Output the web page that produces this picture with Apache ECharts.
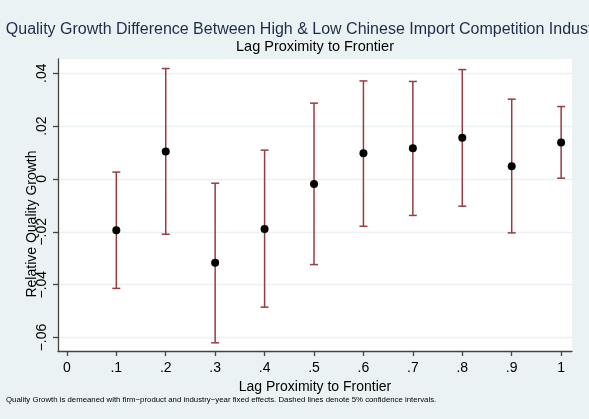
<!DOCTYPE html>
<html lang="en" style="height: 100%">
<head>
  <meta charset="utf-8">
</head>
<body style="height: 100%; margin: 0">
  <div id="container" style="height: 100%"></div>

  <script type="text/javascript" src="https://fastly.jsdelivr.net/npm/echarts@6/dist/echarts.min.js"></script>
  <script type="text/javascript">
    // values
    var proximity = [0.1, 0.2, 0.3, 0.4, 0.5, 0.6, 0.7, 0.8, 0.9, 1.0];
    var estimate = [-0.0194, 0.0104, -0.0317, -0.0189, -0.0019, 0.0097, 0.0116, 0.0156, 0.0048, 0.0138];
    var ciLow = [-0.0414, -0.0209, -0.0620, -0.0485, -0.0324, -0.0179, -0.0138, -0.0103, -0.0204, 0.0003];
    var ciHigh = [0.0026, 0.0418, -0.0016, 0.0109, 0.0287, 0.0371, 0.0369, 0.0414, 0.0302, 0.0274];
    var xTicks = [0, 0.1, 0.2, 0.3, 0.4, 0.5, 0.6, 0.7, 0.8, 0.9, 1];
    var yTicks = [-0.06, -0.04, -0.02, 0, 0.02, 0.04];

    var dom = document.getElementById('container');
    var myChart = echarts.init(dom, null, { renderer: 'canvas' });

    // stata style labels: .1, -.02
    function stataLabel(v) {
      var s = String(Math.round(v * 1000) / 1000);
      s = s.replace('0.', '.');
      return s.replace('-', '\u2212');
    }

    var barData = [];
    var pointData = [];
    for (var i = 0; i < proximity.length; i++) {
      barData.push([proximity[i], ciLow[i], ciHigh[i]]);
      pointData.push([proximity[i], estimate[i]]);
    }

    var font = '"Liberation Sans", Arial, sans-serif';

    var option = {
      backgroundColor: '#eaf2f3',
      animation: false,
      textStyle: { fontFamily: font },
      grid: {
        left: 58, right: 17, top: 59, bottom: 68,
        show: true, backgroundColor: '#ffffff', borderWidth: 0
      },
      graphic: [
        {
          type: 'text',
          style: {
            text: 'Quality Growth Difference Between High & Low Chinese Import Competition Industries',
            x: 312, y: 30, textAlign: 'center', textVerticalAlign: 'middle',
            font: '16px ' + font, fill: '#1c2c4c'
          }
        },
        {
          type: 'text',
          style: {
            text: 'Lag Proximity to Frontier',
            x: 315, y: 47, textAlign: 'center', textVerticalAlign: 'middle',
            font: '14.5px ' + font, fill: '#000'
          }
        },
        {
          type: 'text', x: 32, y: 224, rotation: Math.PI / 2,
          style: {
            text: 'Relative Quality Growth',
            textAlign: 'center', textVerticalAlign: 'middle',
            font: '14px ' + font, fill: '#000'
          }
        },
        {
          type: 'text',
          style: {
            text: 'Quality Growth is demeaned with firm\u2212product and industry\u2212year fixed effects. Dashed lines denote 5% confidence intervals.',
            x: 6, y: 399.5, textAlign: 'left', textVerticalAlign: 'middle',
            font: '7.8px ' + font, fill: '#000'
          }
        }
      ],
      xAxis: {
        type: 'value',
        min: -0.018, max: 1.022,
        name: 'Lag Proximity to Frontier',
        nameLocation: 'middle', nameGap: 23,
        nameTextStyle: { fontSize: 14, color: '#000' },
        axisLine: { show: true, onZero: false, lineStyle: { color: '#444', width: 1.3 } },
        axisTick: { show: true, customValues: xTicks, length: 5, lineStyle: { color: '#444', width: 1.3 } },
        axisLabel: { customValues: xTicks, formatter: stataLabel, fontSize: 14, color: '#000', margin: 10 },
        splitLine: { show: false }
      },
      yAxis: {
        type: 'value',
        min: -0.0651, max: 0.0454,
        axisLine: { show: true, onZero: false, lineStyle: { color: '#444', width: 1.3 } },
        axisTick: { show: true, customValues: yTicks, length: 5, lineStyle: { color: '#444', width: 1.3 } },
        axisLabel: { customValues: yTicks, formatter: stataLabel, rotate: 90, fontSize: 14, color: '#000', margin: 9 },
        splitLine: { show: true, lineStyle: { color: '#eaf2f3', width: 1.3 } }
      },
      series: [
        {
          type: 'custom',
          data: barData,
          encode: { x: 0, y: [1, 2] },
          renderItem: function (params, api) {
            var x = api.value(0);
            var lo = api.coord([x, api.value(1)]);
            var hi = api.coord([x, api.value(2)]);
            var w = 4;
            var style = { stroke: '#9a3a42', lineWidth: 1.5 };
            return {
              type: 'group',
              children: [
                { type: 'line', shape: { x1: hi[0], y1: hi[1], x2: lo[0], y2: lo[1] }, style: style },
                { type: 'line', shape: { x1: hi[0] - w, y1: hi[1], x2: hi[0] + w, y2: hi[1] }, style: style },
                { type: 'line', shape: { x1: lo[0] - w, y1: lo[1], x2: lo[0] + w, y2: lo[1] }, style: style }
              ]
            };
          },
          z: 2
        },
        {
          type: 'scatter',
          data: pointData,
          symbolSize: 8,
          itemStyle: { color: '#000', opacity: 1 },
          z: 3
        }
      ]
    };

    myChart.setOption(option);
    window.addEventListener('resize', myChart.resize);
  </script>
</body>
</html>
